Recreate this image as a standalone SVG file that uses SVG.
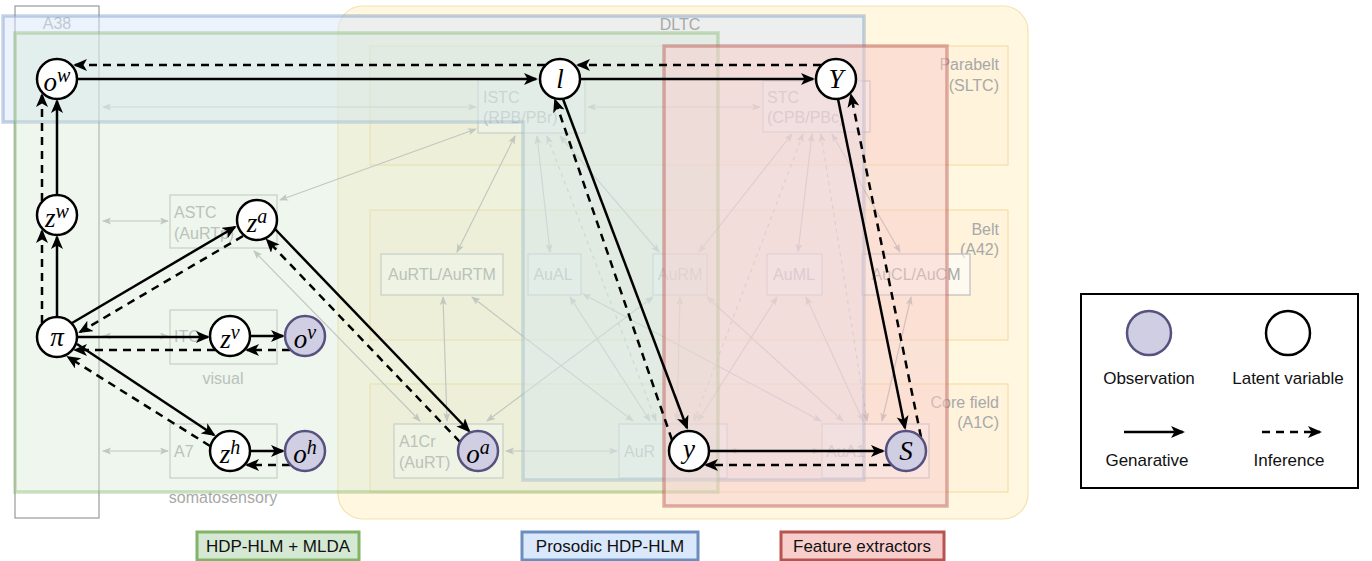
<svg xmlns="http://www.w3.org/2000/svg" width="1372" height="561" viewBox="0 0 1372 561">
<style>
.reg{fill:#fff;fill-opacity:0.55;stroke:#bdbdbd;stroke-width:1.2}
.rt{font-family:"Liberation Sans",Arial,sans-serif;font-size:16px;fill:#a8a8a8}
.rtm{font-family:"Liberation Sans",Arial,sans-serif;font-size:16px;fill:#a8a8a8;text-anchor:middle}
.rte{font-family:"Liberation Sans",Arial,sans-serif;font-size:16px;fill:#a8a8a8;text-anchor:end}
.sub{fill:#ffe6cc;fill-opacity:0.25;stroke:#f0d48a;stroke-opacity:0.7;stroke-width:1.2}
.g{stroke:#b3b3b3;stroke-width:1.2;fill:none;marker-start:url(#ga);marker-end:url(#ga)}
.gd{stroke-dasharray:4,4}
.b{stroke:#000;stroke-width:2.5;fill:none;marker-end:url(#ba)}
.bd{stroke-dasharray:8,6}
.lat{fill:#fff;stroke:#000;stroke-width:2.5}
.obs{fill:#d0cee2;stroke:#56517e;stroke-width:2.5}
.m{font-family:"Liberation Serif","DejaVu Serif",serif;font-style:italic;font-size:27px;fill:#000;text-anchor:middle}
.sp{font-size:20px}
.lg{font-family:"Liberation Sans",Arial,sans-serif;font-size:17px;fill:#111;text-anchor:middle}
</style>
<defs>
<marker id="ba" markerUnits="userSpaceOnUse" markerWidth="16" markerHeight="13" refX="12" refY="6" orient="auto">
<path d="M0,0 L14,6 L0,12 L3.5,6 Z" fill="#000"/>
</marker>
<marker id="ga" markerUnits="userSpaceOnUse" markerWidth="10" markerHeight="9" refX="8" refY="3.5" orient="auto-start-reverse">
<path d="M0,0 L9,3.5 L0,7 L2,3.5 Z" fill="#b3b3b3"/>
</marker>
</defs>
<rect width="1372" height="561" fill="#fff"/>

<!-- auditory cortex background -->
<g id="auditory">
<rect x="338" y="6" width="690" height="513" rx="25" fill="#fff2cc" fill-opacity="0.6" stroke="#f3e2b0" stroke-width="1.2"/>
<rect class="sub" x="370" y="46" width="638" height="119"/>
<rect class="sub" x="370" y="210" width="638" height="130"/>
<rect class="sub" x="370" y="384" width="638" height="108"/>
<text class="rte" x="999" y="70">Parabelt</text>
<text class="rte" x="999" y="91">(SLTC)</text>
<text class="rte" x="999" y="235">Belt</text>
<text class="rte" x="999" y="255">(A42)</text>
<text class="rte" x="999" y="408">Core field</text>
<text class="rte" x="999" y="428">(A1C)</text>
</g>

<g id="A38">
<rect x="15" y="6" width="84" height="512" fill="none" stroke="#999" stroke-width="1.2"/>
<text class="rtm" x="57" y="29">A38</text>
</g>

<!-- brain region boxes -->
<g id="r-ISTC"><rect class="reg" x="478" y="80" width="107" height="53"/><text class="rt" x="483" y="103">ISTC</text><text class="rt" x="483" y="123">(RPB/PBr)</text></g>
<g id="r-STC"><rect class="reg" x="763" y="81" width="107" height="51"/><text class="rt" x="767" y="103">STC</text><text class="rt" x="767" y="123">(CPB/PBc)</text></g>
<g id="r-ASTC"><rect class="reg" x="170" y="195" width="107" height="53"/><text class="rt" x="174" y="218">ASTC</text><text class="rt" x="174" y="239">(AuRTp)</text></g>
<g id="r-ITC"><rect class="reg" x="170" y="310" width="107" height="54"/><text class="rt" x="174" y="342">ITC</text><text class="rtm" x="223" y="384">visual</text></g>
<g id="r-A7"><rect class="reg" x="170" y="424" width="107" height="54"/><text class="rt" x="174" y="457">A7</text><text class="rtm" x="223" y="503">somatosensory</text></g>
<g id="r-AuRTL"><rect class="reg" x="381" y="254" width="122" height="41"/><text class="rtm" x="442" y="280">AuRTL/AuRTM</text></g>
<g id="r-AuAL"><rect class="reg" x="528" y="254" width="53" height="41"/><text class="rtm" x="553" y="280">AuAL</text></g>
<g id="r-AuRM"><rect class="reg" x="653" y="254" width="54" height="41"/><text class="rtm" x="680" y="280">AuRM</text></g>
<g id="r-AuML"><rect class="reg" x="767" y="254" width="55" height="41"/><text class="rtm" x="794" y="280">AuML</text></g>
<g id="r-AuCL"><rect class="reg" x="862" y="254" width="108" height="41"/><text class="rtm" x="916" y="280">AuCL/AuCM</text></g>
<g id="r-A1Cr"><rect class="reg" x="394" y="424" width="109" height="54"/><text class="rt" x="399" y="447">A1Cr</text><text class="rt" x="399" y="468">(AuRT)</text></g>
<g id="r-AuR"><rect class="reg" x="619" y="424" width="108" height="54"/><text class="rt" x="624" y="457">AuR</text></g>
<g id="r-AuA1"><rect class="reg" x="822" y="424" width="107" height="54"/><text class="rt" x="826" y="457">AuA1</text></g>

<!-- anatomical connections -->
<g id="anatomy">
<line class="g" x1="103" y1="107" x2="476" y2="107"/>
<line class="g" x1="588" y1="107" x2="760" y2="107"/>
<line class="g" x1="103" y1="221" x2="168" y2="221"/>
<line class="g" x1="103" y1="336" x2="168" y2="336"/>
<line class="g" x1="103" y1="451" x2="168" y2="451"/>
<line class="g" x1="476" y1="129" x2="280" y2="200"/>
<line class="g" x1="515" y1="136" x2="457" y2="252"/>
<line class="g" x1="537" y1="136" x2="550" y2="252"/>
<line class="g gd" x1="547" y1="136" x2="656" y2="421"/>
<line class="g" x1="560" y1="136" x2="659" y2="252"/>
<line class="g" x1="792" y1="134" x2="699" y2="252"/>
<line class="g gd" x1="803" y1="134" x2="694" y2="421"/>
<line class="g" x1="812" y1="134" x2="798" y2="252"/>
<line class="g gd" x1="821" y1="134" x2="867" y2="421"/>
<line class="g" x1="832" y1="134" x2="900" y2="252"/>
<line class="g" x1="443" y1="297" x2="447" y2="421"/>
<line class="g" x1="472" y1="297" x2="633" y2="421"/>
<line class="g" x1="254" y1="251" x2="420" y2="421"/>
<line class="g" x1="653" y1="297" x2="487" y2="421"/>
<line class="g" x1="570" y1="297" x2="650" y2="421"/>
<line class="g" x1="583" y1="294" x2="821" y2="421"/>
<line class="g" x1="680" y1="297" x2="677" y2="421"/>
<line class="g" x1="707" y1="297" x2="843" y2="421"/>
<line class="g" x1="777" y1="297" x2="698" y2="421"/>
<line class="g" x1="806" y1="297" x2="863" y2="421"/>
<line class="g" x1="911" y1="297" x2="882" y2="421"/>
<line class="g" x1="506" y1="451" x2="617" y2="451"/>
<line class="g" x1="729" y1="451" x2="820" y2="451"/>
</g>

<!-- model overlays -->
<g id="prosodic-area">
<path d="M3,16 H864 V480 H523 V122 H3 Z" fill="#dae8fc" fill-opacity="0.5" stroke="#6c8ebf" stroke-opacity="0.4" stroke-width="3.5"/>
<text class="rtm" x="680" y="30">DLTC</text>
</g>
<g id="mlda-area">
<rect x="15" y="33" width="703" height="459" fill="#d5e8d4" fill-opacity="0.4" stroke="#82b366" stroke-opacity="0.4" stroke-width="3.5"/>
</g>
<g id="feature-area">
<rect x="664" y="46" width="283" height="460" fill="#f8cecc" fill-opacity="0.5" stroke="#b85450" stroke-opacity="0.45" stroke-width="3.5"/>
</g>

<!-- model connectors -->
<g id="connectors">
<line class="b" x1="77" y1="79" x2="536" y2="79"/>
<line class="b" x1="580" y1="79" x2="813" y2="79"/>
<line class="b bd" x1="821" y1="65" x2="578" y2="65"/>
<line class="b bd" x1="545" y1="65" x2="75" y2="65"/>
<line class="b" x1="57" y1="195" x2="57" y2="101"/>
<line class="b bd" x1="42" y1="201" x2="42" y2="95"/>
<line class="b" x1="57" y1="317" x2="57" y2="237"/>
<line class="b bd" x1="42" y1="323" x2="42" y2="231"/>
<line class="b" x1="72" y1="323" x2="235" y2="227"/>
<line class="b bd" x1="243" y1="236" x2="80" y2="332"/>
<line class="b" x1="77" y1="337" x2="208" y2="337"/>
<line class="b bd" x1="215" y1="350" x2="75" y2="350"/>
<line class="b" x1="250" y1="336" x2="283" y2="336"/>
<line class="b bd" x1="290" y1="350" x2="247" y2="350"/>
<line class="b" x1="77" y1="344" x2="214" y2="435"/>
<line class="b bd" x1="210" y1="446" x2="68" y2="357"/>
<line class="b" x1="250" y1="451" x2="283" y2="451"/>
<line class="b bd" x1="290" y1="465" x2="247" y2="465"/>
<line class="b" x1="275" y1="229" x2="469" y2="431"/>
<line class="b bd" x1="460" y1="442" x2="267" y2="240"/>
<line class="b" x1="563" y1="99" x2="687" y2="428"/>
<line class="b bd" x1="672" y1="440" x2="555" y2="100"/>
<line class="b" x1="838" y1="99" x2="905" y2="428"/>
<line class="b bd" x1="921" y1="437" x2="851" y2="95"/>
<line class="b" x1="709" y1="451" x2="883" y2="451"/>
<line class="b bd" x1="891" y1="465" x2="706" y2="465"/>
</g>

<!-- nodes -->
<g id="n-ow"><circle class="lat" cx="57" cy="79" r="20"/><text class="m" x="57" y="91">o<tspan class="sp" dy="-9">w</tspan></text></g>
<g id="n-zw"><circle class="lat" cx="57" cy="215" r="20"/><text class="m" x="57" y="227">z<tspan class="sp" dy="-9">w</tspan></text></g>
<g id="n-pi"><circle class="lat" cx="57" cy="337" r="20"/><text class="m" x="57" y="346">π</text></g>
<g id="n-za"><circle class="lat" cx="257" cy="220" r="20"/><text class="m" x="257" y="232">z<tspan class="sp" dy="-9">a</tspan></text></g>
<g id="n-zv"><circle class="lat" cx="230" cy="336" r="20"/><text class="m" x="230" y="348">z<tspan class="sp" dy="-9">v</tspan></text></g>
<g id="n-ov"><circle class="obs" cx="305" cy="336" r="20"/><text class="m" x="305" y="348">o<tspan class="sp" dy="-9">v</tspan></text></g>
<g id="n-zh"><circle class="lat" cx="230" cy="451" r="20"/><text class="m" x="230" y="463">z<tspan class="sp" dy="-9">h</tspan></text></g>
<g id="n-oh"><circle class="obs" cx="305" cy="451" r="20"/><text class="m" x="305" y="463">o<tspan class="sp" dy="-9">h</tspan></text></g>
<g id="n-oa"><circle class="obs" cx="478" cy="451" r="20"/><text class="m" x="478" y="463">o<tspan class="sp" dy="-9">a</tspan></text></g>
<g id="n-l"><circle class="lat" cx="560" cy="79" r="20"/><text class="m" x="560" y="88">l</text></g>
<g id="n-Y"><circle class="lat" cx="836" cy="79" r="20"/><text class="m" x="836" y="88">Y</text></g>
<g id="n-y"><circle class="lat" cx="689" cy="451" r="20"/><text class="m" x="689" y="458">y</text></g>
<g id="n-S"><circle class="obs" cx="906" cy="451" r="20"/><text class="m" x="906" y="460">S</text></g>

<!-- model labels -->
<g id="lab-mlda"><rect x="197" y="532" width="162" height="28" fill="#d5e8d4" stroke="#82b366" stroke-width="3"/><text class="lg" x="278" y="552">HDP-HLM + MLDA</text></g>
<g id="lab-prosodic"><rect x="522" y="532" width="176" height="28" fill="#dae8fc" stroke="#6c8ebf" stroke-width="3"/><text class="lg" x="610" y="552">Prosodic HDP-HLM</text></g>
<g id="lab-feature"><rect x="781" y="532" width="163" height="28" fill="#f8cecc" stroke="#b85450" stroke-width="3"/><text class="lg" x="862" y="552">Feature extractors</text></g>

<!-- legend -->
<g id="legend">
<rect x="1081" y="294" width="277" height="194" fill="#fff" stroke="#000" stroke-width="2"/>
<circle class="obs" cx="1149" cy="333" r="22" stroke-width="2"/>
<circle class="lat" cx="1288" cy="333" r="22" stroke-width="2"/>
<text class="lg" x="1149" y="384">Observation</text>
<text class="lg" x="1288" y="384">Latent variable</text>
<line class="b" x1="1124" y1="432" x2="1183" y2="432"/>
<line class="b bd" x1="1262" y1="432" x2="1320" y2="432"/>
<text class="lg" x="1147" y="466">Genarative</text>
<text class="lg" x="1289" y="466">Inference</text>
</g>
</svg>
